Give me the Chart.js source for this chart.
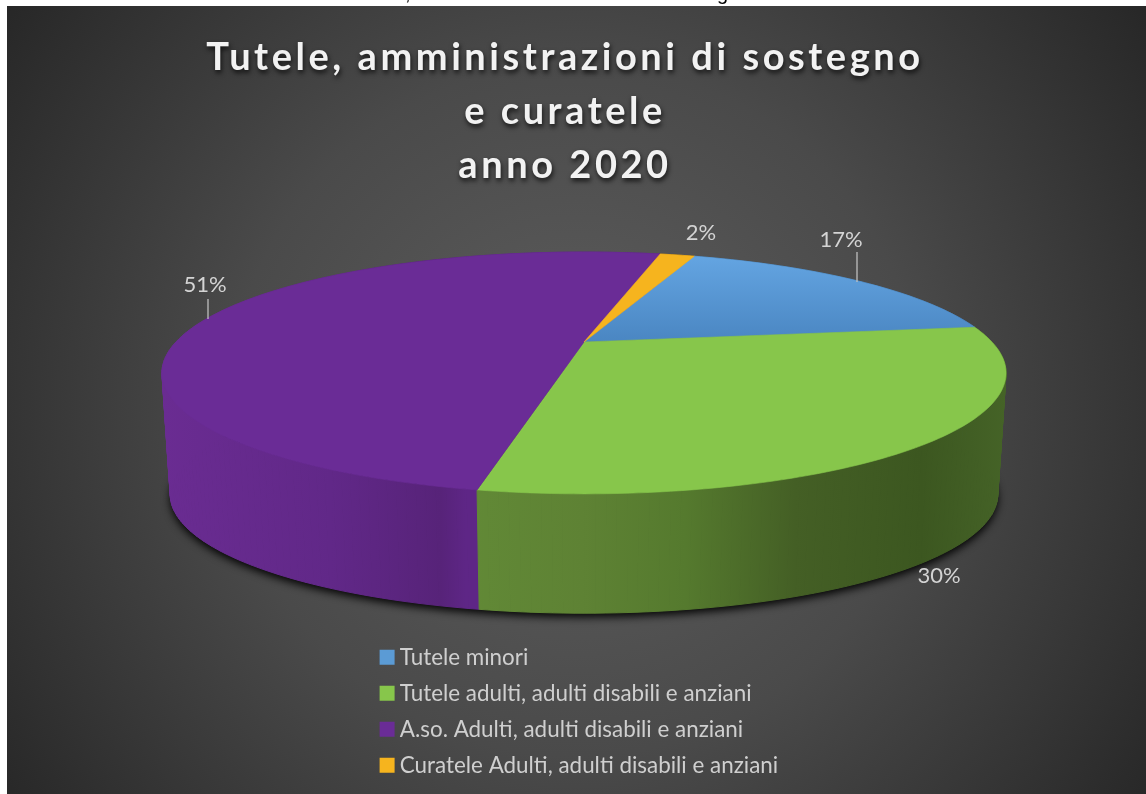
<!DOCTYPE html>
<html>
<head>
<meta charset="utf-8">
<title>Tutele, amministrazioni di sostegno e curatele</title>
<script src="https://cdn.jsdelivr.net/npm/chart.js@4"></script>
<style>
  html, body { margin: 0; padding: 0; background: #fff; overflow: hidden; }
  #wrap { position: relative; width: 1146px; height: 794px; overflow: hidden; }
  #chart { display: block; }
  .cut { position: absolute; top: -18px; font: 20px "Liberation Sans", sans-serif; color: #000; }
</style>
</head>
<body>
<div id="wrap">
  <canvas id="chart" width="1146" height="794"></canvas>
  <span class="cut" style="left:405px">,</span>
  <span class="cut" style="left:717px">g</span>
</div>
<script>
// Data
const categories = [
  "Tutele minori",
  "Tutele adulti, adulti disabili e anziani",
  "A.so. Adulti, adulti disabili e anziani",
  "Curatele Adulti, adulti disabili e anziani"
];
const shares = [17.4, 30.3, 50.6, 1.7];
const firstSliceAngle = 19.6;
const titleLines = ["Tutele, amministrazioni di sostegno", "e curatele", "anno 2020"];
const sliceColors = ["#5b9bd5", "#87c64b", "#6a2c96", "#f6b41e"];

// Wall shading per slice, left to right across the pie
const wallStops = [
  [[0, "#3d6a94"], [1, "#3d6a94"]],
  [[0, "#6b9c3c"], [0.5, "#5e8234"], [0.62, "#557a2e"], [0.75, "#445f25"], [0.9, "#3c5720"], [1, "#456327"]],
  [[0, "#6a2c92"], [0.2, "#612888"], [0.33, "#572379"], [0.36, "#5e2686"], [1, "#5e2686"]],
  [[0, "#a87a14"], [1, "#a87a14"]]
];

// Perspective of the pie plane: k pulls the near edge towards the viewer
const view = { cx: 584, k: 0.256, top: { a: 408, b: 113, y: 342 }, base: { a: 400, b: 111, y: 464 }, left: 162, right: 1006 };

// Where the percent labels sit, with optional leader line
const labelSpots = [
  { x: 841, y: 240, line: [857, 252, 857, 282] },
  { x: 939, y: 576 },
  { x: 205, y: 285, line: [208, 299, 208, 319] },
  { x: 701, y: 233 }
];

const panel = { x: 7, y: 6, w: 1139, h: 788 };
const FONT = "Lato, 'Open Sans', sans-serif";

function project(plane, angle) {
  const u = Math.cos(angle), v = Math.sin(angle);
  const w = 1 - view.k * v;
  return [view.cx + plane.a * u / w, plane.y + plane.b * v / w];
}

function traceArc(ctx, plane, from, to, move) {
  const steps = Math.max(4, Math.ceil(Math.abs(to - from) / 0.02));
  for (let i = 0; i <= steps; i++) {
    const p = project(plane, from + (to - from) * i / steps);
    if (i === 0 && move) ctx.moveTo(p[0], p[1]); else ctx.lineTo(p[0], p[1]);
  }
}

// Sweep the outer edge of a slice from the top plane down to the base plane
function fillWall(ctx, from, to, fill) {
  const steps = Math.max(4, Math.ceil(Math.abs(to - from) / 0.02));
  ctx.fillStyle = fill;
  ctx.strokeStyle = fill;
  ctx.lineWidth = 1;
  for (let i = 0; i < steps; i++) {
    const a = from + (to - from) * i / steps;
    const b = from + (to - from) * (i + 1) / steps;
    const t1 = project(view.top, a), t2 = project(view.top, b);
    const b1 = project(view.base, a), b2 = project(view.base, b);
    ctx.beginPath();
    ctx.moveTo(t1[0], t1[1]);
    ctx.lineTo(t2[0], t2[1]);
    ctx.lineTo(b2[0], b2[1]);
    ctx.lineTo(b1[0], b1[1]);
    ctx.closePath();
    ctx.fill();
    ctx.stroke();
  }
}

const pie3d = {
  id: "pie3d",
  afterInit(chart) {
    // title gets spaced letters and a soft drop shadow
    const title = chart.titleBlock;
    const drawTitle = title.draw;
    title.draw = function () {
      const ctx = chart.ctx;
      ctx.save();
      ctx.translate(-8, 0);
      ctx.letterSpacing = "3.55px";
      ctx.shadowColor = "rgba(0,0,0,0.75)";
      ctx.shadowBlur = 5;
      ctx.shadowOffsetX = 1;
      ctx.shadowOffsetY = 3;
      drawTitle.apply(this, arguments);
      ctx.restore();
    };
  },
  afterLayout(chart) {
    // stacked legend under the pie
    const legend = chart.legend;
    const w = legend.width, h = legend.height;
    legend.left = 372;
    legend.right = legend.left + w;
    legend.top = 632.5;
    legend.bottom = legend.top + h;
  },
  beforeDraw(chart) {
    const ctx = chart.ctx;
    ctx.save();
    const bg = ctx.createRadialGradient(576, 410, 40, 576, 410, 720);
    bg.addColorStop(0, "#5c5c5c");
    bg.addColorStop(0.45, "#4a4a4a");
    bg.addColorStop(1, "#252525");
    ctx.fillStyle = bg;
    ctx.fillRect(panel.x, panel.y, panel.w, panel.h);
    ctx.restore();
  },
  beforeDatasetDraw(chart, args) {
    const ctx = chart.ctx;
    const arcs = chart.getDatasetMeta(args.index).data;
    const startA = arcs[0].startAngle;

    // shadow under the base
    ctx.save();
    ctx.shadowColor = "rgba(0,0,0,0.95)";
    ctx.shadowBlur = 9;
    ctx.shadowOffsetY = 4;
    ctx.fillStyle = "#15151c";
    ctx.beginPath();
    traceArc(ctx, view.base, startA, startA + Math.PI * 2, true);
    ctx.closePath();
    ctx.fill();
    ctx.restore();

    // walls, back slices first
    const order = arcs.map((a, i) => i).sort((p, q) =>
      Math.sin((arcs[p].startAngle + arcs[p].endAngle) / 2) - Math.sin((arcs[q].startAngle + arcs[q].endAngle) / 2));
    order.forEach(i => {
      const arc = arcs[i];
      const grad = ctx.createLinearGradient(view.left, 0, view.right, 0);
      wallStops[i].forEach(s => grad.addColorStop(s[0], s[1]));
      fillWall(ctx, arc.startAngle, arc.endAngle, grad);
    });

    // top faces
    arcs.forEach((arc, i) => {
      ctx.beginPath();
      ctx.moveTo(view.cx, view.top.y);
      traceArc(ctx, view.top, arc.startAngle, arc.endAngle, false);
      ctx.closePath();
      let fill = sliceColors[i];
      if (i === 0) {
        fill = ctx.createLinearGradient(0, 255, 0, 342);
        fill.addColorStop(0, "#64a5e2");
        fill.addColorStop(1, "#4a86c2");
      }
      ctx.fillStyle = fill;
      ctx.strokeStyle = fill;
      ctx.lineWidth = 0.6;
      ctx.fill();
      ctx.stroke();
    });
    return false;
  },
  afterDatasetsDraw(chart) {
    const ctx = chart.ctx;
    ctx.save();
    ctx.font = "22px " + FONT;
    ctx.textAlign = "center";
    ctx.textBaseline = "middle";
    ctx.fillStyle = "#d4d4d4";
    ctx.strokeStyle = "#bfbfbf";
    ctx.lineWidth = 1.3;
    shares.forEach((s, i) => {
      const spot = labelSpots[i];
      ctx.fillText(Math.round(s) + "%", spot.x, spot.y);
      if (spot.line) {
        ctx.beginPath();
        ctx.moveTo(spot.line[0], spot.line[1]);
        ctx.lineTo(spot.line[2], spot.line[3]);
        ctx.stroke();
      }
    });
    ctx.restore();
  }
};

new Chart(document.getElementById("chart"), {
  type: "pie",
  data: {
    labels: categories,
    datasets: [{ data: shares, backgroundColor: sliceColors, borderWidth: 0 }]
  },
  options: {
    responsive: false,
    animation: false,
    rotation: firstSliceAngle,
    layout: { padding: 0 },
    plugins: {
      tooltip: { enabled: false },
      title: {
        display: true,
        text: titleLines,
        color: "#f2f2f2",
        font: { family: FONT, size: 38, weight: "bold", lineHeight: 1.42 },
        padding: { top: 31, bottom: 0 }
      },
      legend: {
        position: "left",
        align: "start",
        labels: {
          color: "#cfcfcf",
          font: { family: FONT, size: 22.4 },
          // tiny box with a thick outline, keeps the text close to the marker
          boxWidth: 3,
          boxHeight: 3,
          padding: 13.6,
          generateLabels: chart => Chart.overrides.pie.plugins.legend.labels.generateLabels(chart)
            .map(l => ({ ...l, lineWidth: 12, strokeStyle: l.fillStyle }))
        }
      }
    }
  },
  plugins: [pie3d]
});
</script>
</body>
</html>
